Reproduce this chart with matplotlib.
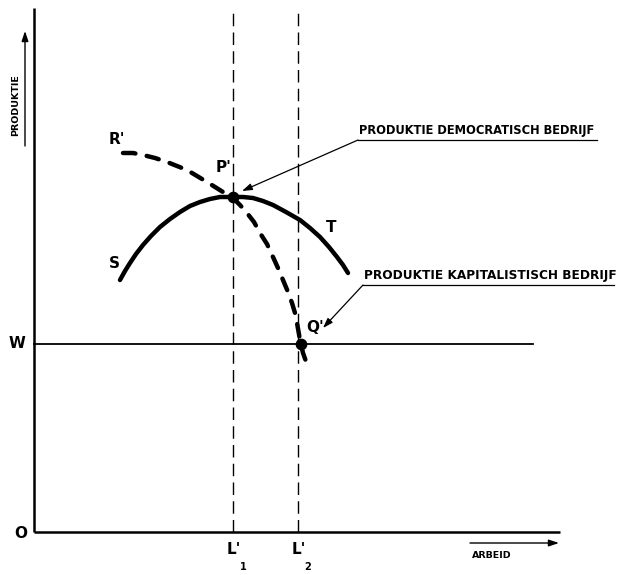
import matplotlib
matplotlib.use("Agg")
import matplotlib.pyplot as plt

# ---- data (origin = axis origin, units ~ pixels) ----
# Solid curve S - T (productie democratisch bedrijf)
st_x = [86, 91, 96, 102, 109, 117, 126, 136, 146, 156, 166, 176, 186, 199,
        209, 219, 229, 239, 252, 266, 276, 286, 295, 303, 309, 314]
st_y = [252, 261, 269, 278, 287, 296, 305, 313, 320, 326, 330, 333, 335, 335,
        335, 334, 331, 327, 320, 312, 304, 295, 285, 275, 267, 259]

# Dashed curve R' - Q' (productie kapitalistisch bedrijf)
rq_x = [89, 99, 109, 121, 133, 143, 153, 163, 173, 189, 199, 206, 213, 220, 226,
        233, 239, 244, 249, 254, 258, 261, 263, 266, 269, 274]
rq_y = [379, 379, 377, 374, 370, 366, 362, 356, 350, 340, 334, 327, 319, 310, 299,
        288, 275, 264, 252, 240, 229, 219, 209, 192, 179, 165]

# Wage line W and labour levels
w_level = 188
w_end = 499
l1_x = 199
l2_x = 264
v_top = 519
x_axis_end = 526
y_axis_end = 524

# Points P' and Q'
pts_x = [199, 267]
pts_y = [335, 188]

fig = plt.figure(figsize=(6.21, 5.75), dpi=100)
ax = fig.add_axes([0, 0, 1, 1])
ax.set_xlim(-34, 587)
ax.set_ylim(-43, 532)
ax.axis("off")

# axes
ax.plot([0, 0], [0, y_axis_end], color="black", lw=1.8, solid_capstyle="butt")
ax.plot([0, x_axis_end], [0, 0], color="black", lw=1.8, solid_capstyle="butt")

# wage line
ax.plot([0, w_end], [w_level, w_level], color="black", lw=1.3)

# vertical dashed lines
for lx in (l1_x, l2_x):
    ax.plot([lx, lx], [0, v_top], color="black", lw=1.0, linestyle=(0, (9, 4.5)))

# curves
ax.plot(st_x, st_y, color="black", lw=3.2, solid_capstyle="round", solid_joinstyle="round")
ax.plot(rq_x, rq_y, color="black", lw=3.2, linestyle=(0, (2.8, 2.6)),
        dash_capstyle="round", dash_joinstyle="round")

# points
ax.scatter(pts_x, pts_y, s=55, color="black", zorder=5)

# letter labels
lab = dict(fontsize=11, fontweight="bold", color="black", family="DejaVu Sans")
ax.text(83, 393, "R'", ha="center", va="center", **lab)
ax.text(190, 365, "P'", ha="center", va="center", **lab)
ax.text(80, 268, "S", ha="center", va="center", **lab)
ax.text(297, 305, "T", ha="center", va="center", **lab)
ax.text(281, 204, "Q'", ha="center", va="center", **lab)
ax.text(-17, 188, "W", ha="center", va="center", **lab)
ax.text(-13, -1, "O", ha="center", va="center", **lab)
ax.text(l1_x + 1, -18, "L'", ha="center", va="center", **lab)
ax.text(l1_x + 10, -35, "1", ha="center", va="center", fontsize=7, fontweight="bold")
ax.text(l2_x + 1, -18, "L'", ha="center", va="center", **lab)
ax.text(l2_x + 10, -35, "2", ha="center", va="center", fontsize=7, fontweight="bold")

# annotation labels with underline and leader arrows
ann = dict(fontweight="bold", color="black", family="DejaVu Sans")
ax.text(325, 395, "PRODUKTIE DEMOCRATISCH BEDRIJF", ha="left", va="bottom",
        fontsize=8.3, **ann)
ax.plot([324, 563], [392, 392], color="black", lw=0.9)
ax.annotate("", xy=(208, 341), xytext=(324, 392),
            arrowprops=dict(arrowstyle="-|>,head_length=0.6,head_width=0.2",
                            color="black", lw=0.9, shrinkA=0, shrinkB=0))

ax.text(330, 250, "PRODUKTIE KAPITALISTISCH BEDRIJF", ha="left", va="bottom",
        fontsize=8.7, **ann)
ax.plot([329, 580], [247, 247], color="black", lw=0.9)
ax.annotate("", xy=(289, 204), xytext=(329, 247),
            arrowprops=dict(arrowstyle="-|>,head_length=0.6,head_width=0.2",
                            color="black", lw=0.9, shrinkA=0, shrinkB=0))

# axis titles with arrows
ax.text(-18, 427, "PRODUKTIE", rotation=90, ha="center", va="center",
        fontsize=6.8, fontweight="bold")
ax.annotate("", xy=(-9, 501), xytext=(-9, 386),
            arrowprops=dict(arrowstyle="-|>,head_length=0.6,head_width=0.2",
                            color="black", lw=1.0, shrinkA=0, shrinkB=0))
ax.text(458, -23, "ARBEID", ha="center", va="center", fontsize=6.8, fontweight="bold")
ax.annotate("", xy=(525, -11), xytext=(436, -11),
            arrowprops=dict(arrowstyle="-|>,head_length=0.6,head_width=0.2",
                            color="black", lw=1.0, shrinkA=0, shrinkB=0))

fig.savefig("out.png", dpi=100, facecolor="white")
